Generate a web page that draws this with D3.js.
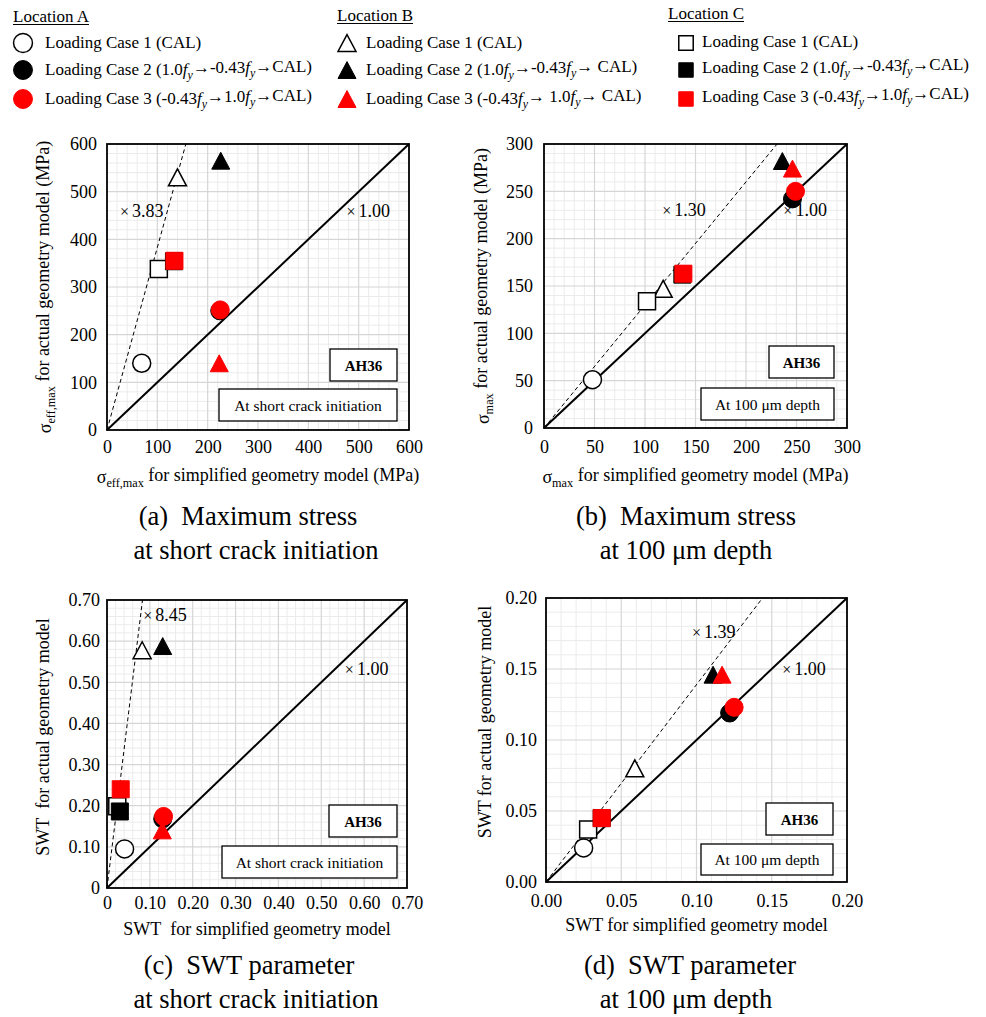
<!DOCTYPE html>
<html>
<head>
<meta charset="utf-8">
<script src="https://cdn.jsdelivr.net/npm/d3@7"></script>
<style>
  body { margin: 0; background: #fff; }
  svg { display: block; }
  text { font-family: "Liberation Serif", "Times New Roman", serif; fill: #000; }
</style>
</head>
<body>
<svg id="fig" width="986" height="1017"></svg>
<script>
// ---- Series: location (A circle, B triangle, C square) x loading case ----
const seriesKeys = ["A1", "A2", "A3", "B1", "B2", "B3", "C1", "C2", "C3"];
const locations = ["Location A", "Location B", "Location C"];
const legendLabelsA = ["Loading Case 1 (CAL)", "Loading Case 2 (1.0f_y→-0.43f_y→CAL)", "Loading Case 3 (-0.43f_y→1.0f_y→CAL)"];
const legendLabelsB = ["Loading Case 1 (CAL)", "Loading Case 2 (1.0f_y→-0.43f_y→ CAL)", "Loading Case 3 (-0.43f_y→ 1.0f_y→ CAL)"];
const legendLabelsC = ["Loading Case 1 (CAL)", "Loading Case 2 (1.0f_y→-0.43f_y→CAL)", "Loading Case 3 (-0.43f_y→1.0f_y→CAL)"];

// ---- (a) effective max stress at short crack initiation (MPa) ----
const aTicks = [0, 100, 200, 300, 400, 500, 600];
const aTickLabels = ["0", "100", "200", "300", "400", "500", "600"];
const aX = [69, 224, 225, 140, 226, 223, 103, 133, 134];
const aY = [140, 250, 252, 530, 565, 140, 338, 354, 355];
const aSlope = 3.83;

// ---- (b) max stress at 100 um depth (MPa) ----
const bTicks = [0, 50, 100, 150, 200, 250, 300];
const bTickLabels = ["0", "50", "100", "150", "200", "250", "300"];
const bX = [48, 246, 249, 118, 236, 246, 102, 137, 138];
const bY = [51, 242, 250, 147, 282, 274, 134, 162, 163];
const bSlope = 1.30;

// ---- (c) SWT parameter at short crack initiation ----
const cTicks = [0, 0.1, 0.2, 0.3, 0.4, 0.5, 0.6, 0.7];
const cTickLabels = ["0", "0.10", "0.20", "0.30", "0.40", "0.50", "0.60", "0.70"];
const cX = [0.041, 0.130, 0.132, 0.082, 0.130, 0.129, 0.024, 0.030, 0.032];
const cY = [0.095, 0.168, 0.174, 0.578, 0.588, 0.140, 0.199, 0.186, 0.240];
const cSlope = 8.45;

// ---- (d) SWT parameter at 100 um depth ----
const dTicks = [0, 0.05, 0.1, 0.15, 0.2];
const dTickLabels = ["0.00", "0.05", "0.10", "0.15", "0.20"];
const dX = [0.025, 0.122, 0.125, 0.059, 0.111, 0.117, 0.028, 0.037, 0.037];
const dY = [0.024, 0.119, 0.123, 0.080, 0.146, 0.146, 0.037, 0.045, 0.045];
const dSlope = 1.39;

// ---- styling helpers ----
const svg = d3.select("#fig");
const RED = "#ff0000";
const NB = "\u00a0";

function shapeOf(key) { return key[0] === "A" ? "circle" : key[0] === "B" ? "triangle" : "square"; }
function fillOf(key) { return key[1] === "1" ? "#fff" : key[1] === "2" ? "#000" : RED; }
function strokeOf(key) { return key[1] === "3" ? RED : "#000"; }

function markerPath(shape, s) {
  if (shape === "circle") {
    const r = s / 2;
    return `M${r},0A${r},${r} 0 1,1 ${-r},0A${r},${r} 0 1,1 ${r},0Z`;
  }
  if (shape === "square") {
    const h = s / 2;
    return `M${-h},${-h}H${h}V${h}H${-h}Z`;
  }
  const w = s / 2, h = s * 0.47;
  return `M0,${-h}L${w},${h}L${-w},${h}Z`;
}
function markerSize(shape) { return shape === "circle" ? 18 : shape === "square" ? 17 : 18; }

function drawMarker(g, key, cx, cy, scale) {
  const shape = shapeOf(key);
  g.append("path")
    .attr("d", markerPath(shape, markerSize(shape) * (scale || 1)))
    .attr("transform", `translate(${cx},${cy})`)
    .attr("fill", fillOf(key))
    .attr("stroke", strokeOf(key))
    .attr("stroke-width", key[1] === "1" ? 1.5 : 1);
}

// text with italic f and subscript y wherever "f_y" appears
function richText(sel, str) {
  const parts = str.split("f_y");
  let lift = false;
  parts.forEach((p, i) => {
    if (p) {
      const t = sel.append("tspan").text(p);
      if (lift) t.attr("dy", "-0.3em");
      lift = false;
    }
    if (i < parts.length - 1) {
      const f = sel.append("tspan").attr("font-style", "italic").text("f");
      if (lift) f.attr("dy", "-0.3em");
      sel.append("tspan").attr("font-style", "italic").attr("font-size", "0.7em").attr("dy", "0.3em").text("y");
      lift = true;
    }
  });
}

// ---- legend ----
const legendCols = [
  { x: 13, head: 22, mx: 23, tx: 45, rows: [48, 75, 104], my: [43, 70, 99], labels: legendLabelsA, keys: ["A1", "A2", "A3"] },
  { x: 337, head: 21, mx: 347, tx: 366, rows: [48, 75, 104], my: [43, 70, 99], labels: legendLabelsB, keys: ["B1", "B2", "B3"] },
  { x: 668, head: 19, mx: 686, tx: 702, rows: [47, 73, 102], my: [43, 70, 99], labels: legendLabelsC, keys: ["C1", "C2", "C3"] }
];
legendCols.forEach((col, ci) => {
  const g = svg.append("g").attr("class", "legend");
  const head = g.append("text").attr("x", col.x).attr("y", col.head)
    .attr("font-size", 17).text(locations[ci]);
  const w = head.node().getComputedTextLength();
  g.append("line").attr("x1", col.x).attr("x2", col.x + w)
    .attr("y1", col.head + 2.5).attr("y2", col.head + 2.5)
    .attr("stroke", "#000").attr("stroke-width", 1);
  col.keys.forEach((k, i) => {
    const sc = shapeOf(k) === "square" ? 0.85 : shapeOf(k) === "circle" ? 1.05 : 1;
    drawMarker(g, k, col.mx, col.my[i], sc);
    richText(g.append("text").attr("x", col.tx).attr("y", col.rows[i]).attr("font-size", 17), col.labels[i]);
  });
});

// ---- scatter panels ----
const panels = [
  { left: 107, top: 144, w: 302, h: 286, ticks: aTicks, labels: aTickLabels, xs: aX, ys: aY, slope: aSlope,
    minorPer: 5, ypad: 10, xpad: 10,
    xTitle: ["σ", "eff,max", " for simplified geometry model (MPa)"],
    yTitle: ["σ", "eff,max", " for actual geometry model (MPa)"], xTitleY: 483, yTitleX: 51, yTitleC: 287,
    ratioLabel: [26, 447], oneLabel: [476, 447],
    box1: [330, 349, 67, 32], box2: [219, 389, 178, 32], box2Text: "At short crack initiation",
    caption: ["(a)" + NB + NB + "Maximum stress", "at short crack initiation"], capX: [248, 256], capY: 525 },
  { left: 544, top: 144, w: 303, h: 284, ticks: bTicks, labels: bTickLabels, xs: bX, ys: bY, slope: bSlope,
    minorPer: 5, ypad: 11, xpad: 12,
    xTitle: ["σ", "max", " for simplified geometry model (MPa)"],
    yTitle: ["σ", "max", " for actual geometry model (MPa)"], xTitleY: 483, yTitleX: 489, yTitleC: 286,
    ratioLabel: [117, 224], oneLabel: [237, 224],
    box1: [769, 346, 65, 32], box2: [701, 388, 133, 32], box2Text: "At 100 μm depth",
    caption: ["(b)" + NB + NB + "Maximum stress", "at 100 μm depth"], capX: [686, 686], capY: 525 },
  { left: 107, top: 600, w: 300, h: 288, ticks: cTicks, labels: cTickLabels, xs: cX, ys: cY, slope: cSlope,
    minorPer: 5, ypad: 7, xpad: 8,
    xTitle: ["SWT" + NB + " for simplified geometry model"],
    yTitle: ["SWT" + NB + " for actual geometry model"], xTitleY: 935, yTitleX: 49, yTitleC: 737,
    ratioLabel: [0.0845, 0.648], oneLabel: [0.555, 0.518],
    box1: [329, 805, 68, 32], box2: [222, 846, 175, 32], box2Text: "At short crack initiation",
    caption: ["(c)" + NB + NB + "SWT parameter", "at short crack initiation"], capX: [249, 256], capY: 974 },
  { left: 546, top: 598, w: 301, h: 284, ticks: dTicks, labels: dTickLabels, xs: dX, ys: dY, slope: dSlope,
    minorPer: 5, ypad: 9, xpad: 12,
    xTitle: ["SWT for simplified geometry model"],
    yTitle: ["SWT for actual geometry model"], xTitleY: 931, yTitleX: 491, yTitleC: 722,
    ratioLabel: [0.097, 0.1716], oneLabel: [0.157, 0.146],
    box1: [766, 803, 67, 32], box2: [701, 844, 132, 31], box2Text: "At 100 μm depth",
    caption: ["(d)" + NB + NB + "SWT parameter", "at 100 μm depth"], capX: [690, 686], capY: 974 }
];

function titleText(sel, parts) {
  sel.append("tspan").text(parts[0]);
  if (parts.length > 1) {
    sel.append("tspan").attr("font-size", "0.68em").attr("dy", "0.35em").text(parts[1]);
    sel.append("tspan").attr("dy", "-0.35em").text(parts[2]);
  }
}

// "×" sign drawn a little smaller, followed by the ratio value
function ratioText(sel, value) {
  sel.append("tspan").attr("font-size", 16).text("×");
  sel.append("tspan").attr("dx", 3).text(value.toFixed(2));
}

panels.forEach(p => {
  const max = p.ticks[p.ticks.length - 1];
  const x = d3.scaleLinear().domain([0, max]).range([p.left, p.left + p.w]);
  const y = d3.scaleLinear().domain([0, max]).range([p.top + p.h, p.top]);
  const g = svg.append("g");

  // minor and major grid
  const major = p.ticks[1] - p.ticks[0];
  const minorStep = major / p.minorPer;
  const minor = d3.range(1, Math.round(max / minorStep))
    .filter(i => i % p.minorPer !== 0).map(i => i * minorStep);
  const grid = g.append("g");
  minor.forEach(v => {
    grid.append("line").attr("x1", x(v)).attr("x2", x(v)).attr("y1", y(0)).attr("y2", y(max))
      .attr("stroke", "#ebebeb").attr("stroke-width", 1);
    grid.append("line").attr("y1", y(v)).attr("y2", y(v)).attr("x1", x(0)).attr("x2", x(max))
      .attr("stroke", "#ebebeb").attr("stroke-width", 1);
  });
  p.ticks.slice(1, -1).forEach(v => {
    grid.append("line").attr("x1", x(v)).attr("x2", x(v)).attr("y1", y(0)).attr("y2", y(max))
      .attr("stroke", "#d6d6d6").attr("stroke-width", 1.2);
    grid.append("line").attr("y1", y(v)).attr("y2", y(v)).attr("x1", x(0)).attr("x2", x(max))
      .attr("stroke", "#d6d6d6").attr("stroke-width", 1.2);
  });

  // reference lines: 1:1 (solid) and fitted ratio (dashed)
  g.append("line").attr("x1", x(0)).attr("y1", y(0)).attr("x2", x(max)).attr("y2", y(max))
    .attr("stroke", "#000").attr("stroke-width", 2);
  g.append("line").attr("x1", x(0)).attr("y1", y(0)).attr("x2", x(max / p.slope)).attr("y2", y(max))
    .attr("stroke", "#000").attr("stroke-width", 1).attr("stroke-dasharray", "4,3");

  // data points
  seriesKeys.forEach((k, i) => drawMarker(g, k, x(p.xs[i]), y(p.ys[i])));

  // frame
  g.append("rect").attr("x", p.left).attr("y", p.top).attr("width", p.w).attr("height", p.h)
    .attr("fill", "none").attr("stroke", "#000").attr("stroke-width", 1.8);

  // axes
  const xa = g.append("g").attr("transform", `translate(0,${p.top + p.h})`)
    .call(d3.axisBottom(x).tickValues(p.ticks).tickFormat((d, i) => p.labels[i]).tickSize(0).tickPadding(p.xpad));
  const ya = g.append("g").attr("transform", `translate(${p.left},0)`)
    .call(d3.axisLeft(y).tickValues(p.ticks).tickFormat((d, i) => p.labels[i]).tickSize(0).tickPadding(p.ypad));
  [xa, ya].forEach(a => {
    a.select(".domain").remove();
    a.attr("font-family", null).attr("font-size", null);
    a.selectAll("text").attr("font-size", 18).attr("fill", "#000");
  });

  // ratio annotations
  ratioText(g.append("text").attr("x", x(p.ratioLabel[0])).attr("y", y(p.ratioLabel[1])).attr("font-size", 18), p.slope);
  ratioText(g.append("text").attr("x", x(p.oneLabel[0])).attr("y", y(p.oneLabel[1])).attr("font-size", 18), 1);

  // material / location boxes
  const [b1x, b1y, b1w, b1h] = p.box1;
  g.append("rect").attr("x", b1x).attr("y", b1y).attr("width", b1w).attr("height", b1h)
    .attr("fill", "#fff").attr("stroke", "#000").attr("stroke-width", 1.3);
  g.append("text").attr("x", b1x + b1w / 2).attr("y", b1y + b1h / 2 + 5.5)
    .attr("text-anchor", "middle").attr("font-size", 15).attr("font-weight", "bold").text("AH36");
  const [b2x, b2y, b2w, b2h] = p.box2;
  g.append("rect").attr("x", b2x).attr("y", b2y).attr("width", b2w).attr("height", b2h)
    .attr("fill", "#fff").attr("stroke", "#000").attr("stroke-width", 1.3);
  g.append("text").attr("x", b2x + b2w / 2).attr("y", b2y + b2h / 2 + 5.5)
    .attr("text-anchor", "middle").attr("font-size", 15.5).text(p.box2Text);

  // axis titles
  titleText(g.append("text").attr("x", p.left + p.w / 2).attr("y", p.xTitleY)
    .attr("text-anchor", "middle").attr("font-size", 18), p.xTitle);
  titleText(g.append("text").attr("transform", `translate(${p.yTitleX},${p.yTitleC}) rotate(-90)`)
    .attr("text-anchor", "middle").attr("font-size", 18), p.yTitle);

  // caption
  p.caption.forEach((line, i) => {
    g.append("text").attr("x", p.capX[i]).attr("y", p.capY + i * 34)
      .attr("text-anchor", "middle").attr("font-size", 26.5).text(line);
  });
});
</script>
</body>
</html>
